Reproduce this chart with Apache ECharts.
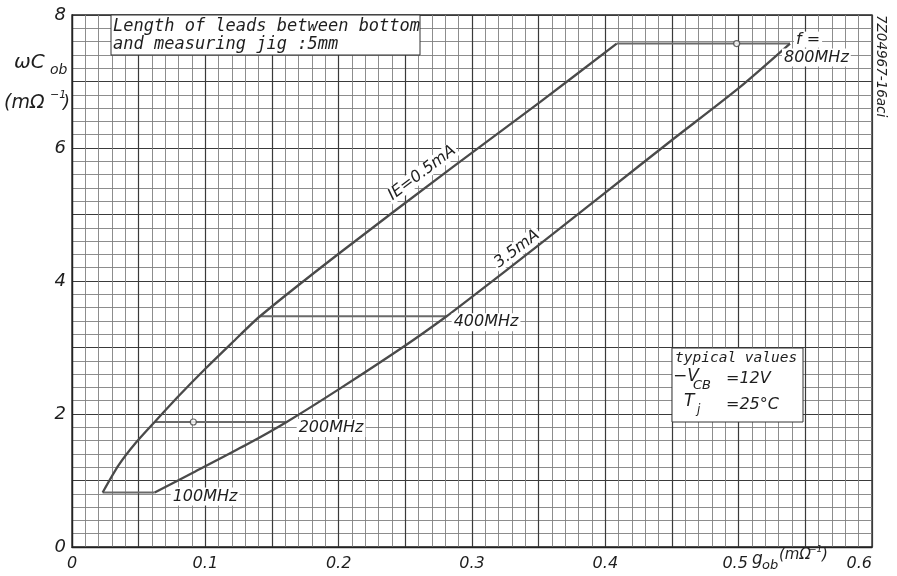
<!DOCTYPE html>
<html><head><meta charset="utf-8">
<script src="https://cdn.jsdelivr.net/npm/echarts@6/dist/echarts.min.js"></script>
<style>html,body{margin:0;padding:0;background:#fff}#c{width:897px;height:576px}</style>
</head><body><div id="c"></div>
<script>
// ---- data ----
const xTickLabels = ['0','0.1','0.2','0.3','0.4','0.5','0.6'];
const yTickLabels = ['0','2','4','6','8'];
// IE = 0.5 mA curve: [g_ob, ωC_ob]
const curveIE05 = [[0.023,0.82],[0.035,1.23],[0.048,1.57],[0.062,1.88],[0.08,2.27],[0.1,2.68],[0.12,3.07],[0.141,3.47],[0.2,4.41],[0.286,5.72],[0.351,6.69],[0.4085,7.57]];
// IE = 3.5 mA curve
const curveIE35 = [[0.062,0.82],[0.091,1.12],[0.131,1.54],[0.161,1.88],[0.2,2.37],[0.25,3.03],[0.281,3.47],[0.3,3.76],[0.35,4.54],[0.4,5.33],[0.45,6.12],[0.5,6.9],[0.5385,7.57]];
// constant-frequency lines
const freqNames = ['100MHz','200MHz','400MHz','800MHz'];
const freqY   = [0.82, 1.88, 3.47, 7.57];
const freqX05 = [0.023, 0.062, 0.141, 0.4085];
const freqX35 = [0.062, 0.161, 0.281, 0.5385];
const freqMarks = [[0.091,1.88],[0.4985,7.57]];

const FONT = '"DejaVu Sans", sans-serif';
const MONO = '"DejaVu Sans Mono", monospace';
const INK = '#1e1e1e';
const chart = echarts.init(document.getElementById('c'));

function isMult(v, step){ return Math.abs(Math.round(v/step)*step - v) < 1e-6; }

const series = [
  {type:'line', data:curveIE05, smooth:0.25, symbol:'none', lineStyle:{color:'#4a4a4a', width:2.3}, z:5},
  {type:'line', data:curveIE35, smooth:0.25, symbol:'none', lineStyle:{color:'#4a4a4a', width:2.3}, z:5}
];
freqNames.forEach((n,i)=>{
  series.push({type:'line', name:n, data:[[freqX05[i],freqY[i]],[freqX35[i],freqY[i]]], symbol:'none',
    lineStyle:{color:'#6a6a6a', width:2}, z:4});
});
series.push({type:'scatter', data:freqMarks, symbol:'circle', symbolSize:6,
  itemStyle:{color:'#fff', borderColor:'#444', borderWidth:1.2}, z:6});

chart.setOption({
  animation:false,
  backgroundColor:'#fff',
  grid:{left:72, right:25, top:15, bottom:29, show:true, borderColor:'#222', borderWidth:1.3},
  xAxis:{type:'value', min:0, max:0.6, interval:0.05,
    axisLine:{show:true, lineStyle:{color:'#222', width:1.3}}, axisTick:{show:false},
    axisLabel:{margin:9, color:INK, fontStyle:'italic', fontFamily:FONT, fontSize:16, alignMaxLabel:'right',
      formatter:v=> {
        if(!isMult(v,0.1)) return '';
        const i = Math.round(v*10);
        return i===5 ? '{l|'+xTickLabels[i]+'}' : xTickLabels[i];
      },
      rich:{l:{fontStyle:'italic', fontFamily:FONT, fontSize:16, color:INK, padding:[0,7,0,0]}}},
    splitLine:{show:true, lineStyle:{color:'#3a3a3a', width:1.2}},
    minorTick:{show:false, splitNumber:5},
    minorSplitLine:{show:true, lineStyle:{color:'#808080', width:0.9}}},
  yAxis:{type:'value', min:0, max:8, interval:1,
    axisLine:{show:true, lineStyle:{color:'#222', width:1.3}}, axisTick:{show:false},
    axisLabel:{margin:6, color:INK, fontStyle:'italic', fontFamily:FONT, fontSize:18,
      formatter:v=> isMult(v,2) ? yTickLabels[Math.round(v/2)] : ''},
    splitLine:{show:true, lineStyle:{color:'#3a3a3a', width:1.2}},
    minorTick:{show:false, splitNumber:5},
    minorSplitLine:{show:true, lineStyle:{color:'#808080', width:0.9}}},
  series
});

function t(x,y,text,size,extra,fam){
  const el = {type:'text', x, y, z:100, style:{text, font:'italic '+size+'px '+(fam||FONT), fill:INK,
    textAlign:'left', textVerticalAlign:'middle', align:'left', verticalAlign:'middle'}};
  if(extra){ Object.assign(el.style, extra.style||{}); if(extra.rotation!==undefined) el.rotation=extra.rotation; }
  return el;
}
const P = (x,y)=>chart.convertToPixel({gridIndex:0},[x,y]);
const g = [];
// note box
g.push({type:'rect', z:90, shape:{x:111, y:15, width:309, height:40}, style:{fill:'#fff', stroke:'#333', lineWidth:1}});
g.push(t(113,27,'Length of leads between bottom',17,null,MONO));
g.push(t(113,45,'and measuring jig :5mm',17,null,MONO));
// typical values box
g.push({type:'rect', z:90, shape:{x:672, y:348, width:131, height:74}, style:{fill:'#fff', stroke:'#333', lineWidth:1}});
g.push(t(675,358,'typical values',14.5,null,MONO));
g.push(t(673,377,'\u2212V',17));
g.push(t(693,386,'CB',13));
g.push(t(726,379,'=12V',16));
g.push(t(684,402,'T',17));
g.push(t(697,410,'j',12));
g.push(t(726,405,'=25\u00b0C',16));
// axis names
g.push(t(14,63,'\u03c9C',20));
g.push(t(50,70,'ob',14));
g.push(t(4,103,'(m\u03a9',19));
g.push(t(50,95,'\u22121',11));
g.push(t(63,103,')',18));
g.push(t(752,560,'g',17));
g.push(t(762,566,'ob',13));
g.push(t(779,555,'(m\u03a9',15));
g.push(t(809,550,'\u22121',9));
g.push(t(822,555,')',15));
// curve labels
g.push(t(422,173,'IE=0.5mA',16,{rotation:37*Math.PI/180, style:{textAlign:'center', align:'center', backgroundColor:'#fff', padding:[0,2]}}));
g.push(t(517,249,'3.5mA',16,{rotation:37*Math.PI/180, style:{textAlign:'center', align:'center', backgroundColor:'#fff', padding:[0,2]}}));
// frequency labels
const offs = [[16,4],[10,6],[5,6]];
for(let i=0;i<3;i++){
  const p = P(freqX35[i], freqY[i]);
  g.push(t(p[0]+offs[i][0], p[1]+offs[i][1], freqNames[i], 16, {style:{backgroundColor:'#fff', padding:[1,2]}}));
}
const p8 = P(freqX35[3], freqY[3]);
g.push(t(p8[0]+4, p8[1]-4, 'f =', 16, {style:{backgroundColor:'#fff', padding:[0,2]}}));
g.push(t(p8[0]-8, p8[1]+14, freqNames[3], 16, {style:{backgroundColor:'#fff', padding:[1,2]}}));
// archive code
g.push(t(880,15,'7Z04967-16aci',13.5,{rotation:-Math.PI/2, style:{textAlign:'left', align:'left'}}));
chart.setOption({graphic:g});
</script></body></html>
